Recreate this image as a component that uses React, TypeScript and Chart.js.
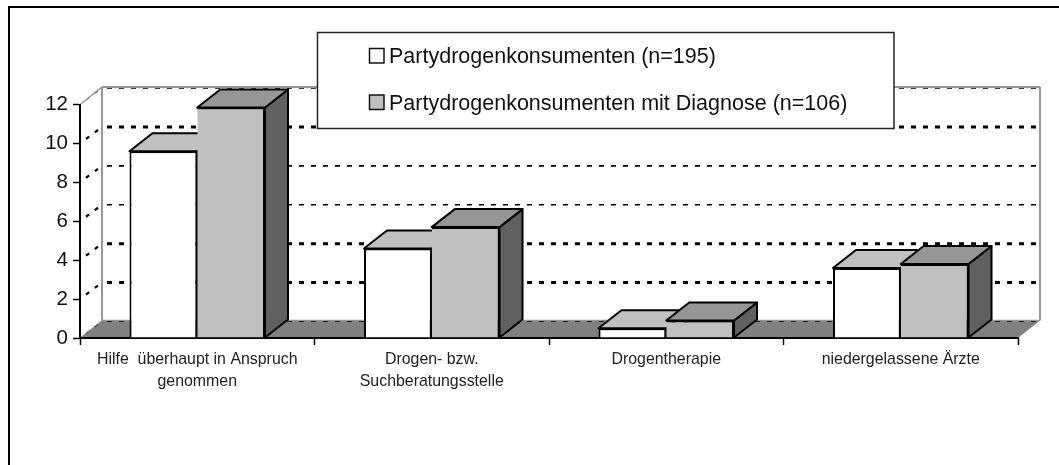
import React, { useEffect, useRef } from "react";
import { Chart, registerables } from "chart.js";

Chart.register(...registerables);

const categories: (string | string[])[] = [
  ["Hilfe  überhaupt in Anspruch", "genommen"],
  ["Drogen- bzw.", "Suchberatungsstelle"],
  "Drogentherapie",
  "niedergelassene Ärzte",
];
const seriesNames = [
  "Partydrogenkonsumenten (n=195)",
  "Partydrogenkonsumenten mit Diagnose (n=106)",
];
const allConsumers = [9.6, 4.6, 0.5, 3.6];
const withDiagnosis = [11.85, 5.7, 0.9, 3.8];
const yTicks = [0, 2, 4, 6, 8, 10, 12];
const gridWidths: Record<number, number> = { 0: 1, 2: 3, 4: 3, 6: 1.6, 8: 1.6, 10: 3, 12: 1.6 };

const WALL_DX = 22;
const WALL_DY = 17.5;
const BAR_DX = 23;
const BAR_DY = 18;
const FONT = '"Liberation Sans", Arial, sans-serif';

const sideColors = [
  { top: "#C0C0C0", side: "#FFFFFF" },
  { top: "#969696", side: "#606060" },
];

function poly(ctx: CanvasRenderingContext2D, pts: number[][], fill: string | null, stroke: string | null, lw = 1) {
  ctx.beginPath();
  pts.forEach((p, i) => (i ? ctx.lineTo(p[0], p[1]) : ctx.moveTo(p[0], p[1])));
  ctx.closePath();
  if (fill) {
    ctx.fillStyle = fill;
    ctx.fill();
  }
  if (stroke) {
    ctx.strokeStyle = stroke;
    ctx.lineWidth = lw;
    ctx.lineJoin = "round";
    ctx.stroke();
  }
}

function seg(ctx: CanvasRenderingContext2D, x1: number, y1: number, x2: number, y2: number, color: string, lw: number, dash: number[] = []) {
  ctx.save();
  ctx.beginPath();
  ctx.lineCap = "butt";
  ctx.setLineDash(dash);
  ctx.strokeStyle = color;
  ctx.lineWidth = lw;
  ctx.moveTo(x1, y1);
  ctx.lineTo(x2, y2);
  ctx.stroke();
  ctx.restore();
}

const scenePlugin = {
  id: "scene3d",
  beforeDraw(chart: any) {
    const { ctx, chartArea: a, scales } = chart;
    const y = scales.y;
    const y0 = y.getPixelForValue(0);
    const y12 = y.getPixelForValue(12);
    ctx.save();
    ctx.fillStyle = "#FFFFFF";
    ctx.fillRect(0, 0, chart.width, chart.height);

    // outer frame
    seg(ctx, 9, 465, 9, 7, "#000", 2);
    seg(ctx, 8, 7, 1059, 7, "#000", 2);

    // floor
    poly(ctx, [[a.left, y0], [a.left + WALL_DX, y0 - WALL_DY], [a.right + WALL_DX, y0 - WALL_DY], [a.right, y0]], "#808080", null);

    // walls
    const gx = a.left + WALL_DX;
    const gr = a.right + WALL_DX;
    for (const t of yTicks) {
      const py = y.getPixelForValue(t);
      const lw = gridWidths[t];
      seg(ctx, gx + 5, py - WALL_DY + 1, gr - 2, py - WALL_DY + 1, "#000", lw, [5, 7]);
      seg(ctx, a.left + 6, py - 4.5, gx, py - WALL_DY + 1, "#000", t === 0 || t === 12 ? 1 : 2.2, [4, 7]);
    }
    seg(ctx, gx, y12 - WALL_DY, gx, y0 - WALL_DY, "#969696", 2);
    seg(ctx, gr, y12 - WALL_DY, gr, y0 - WALL_DY, "#969696", 2);
    seg(ctx, gx, y12 - WALL_DY, gr, y12 - WALL_DY, "#969696", 2);
    seg(ctx, gx, y0 - WALL_DY, gr, y0 - WALL_DY, "#969696", 1.5);
    seg(ctx, a.left, y12, gx, y12 - WALL_DY, "#969696", 1.5);
    seg(ctx, a.left, y0, gx, y0 - WALL_DY, "#969696", 1);
    ctx.restore();
  },
  beforeDatasetsDraw(chart: any) {
    const { ctx } = chart;
    ctx.save();
    chart.data.datasets.forEach((_: any, di: number) => {
      const meta = chart.getDatasetMeta(di);
      meta.data.forEach((bar: any) => {
        const l = bar.x - bar.width / 2;
        const r = bar.x + bar.width / 2;
        const t = bar.y;
        const b = bar.base;
        poly(ctx, [[r, t], [r + BAR_DX, t - BAR_DY], [r + BAR_DX, b - BAR_DY], [r, b]], sideColors[di].side, "#000", 2);
        poly(ctx, [[l, t], [l + BAR_DX, t - BAR_DY], [r + BAR_DX, t - BAR_DY], [r, t]], sideColors[di].top, "#000", 2);
      });
    });
    ctx.restore();
  },
  afterDraw(chart: any) {
    const { ctx } = chart;
    ctx.save();
    ctx.fillStyle = "#FFFFFF";
    ctx.strokeStyle = "#222";
    ctx.lineWidth = 1.5;
    ctx.fillRect(317.5, 32.5, 576.5, 96);
    ctx.strokeRect(317.5, 32.5, 576.5, 96);
    chart.data.datasets.forEach((ds: any, i: number) => {
      const top = i === 0 ? 48.5 : 95;
      ctx.fillStyle = ds.backgroundColor;
      ctx.strokeStyle = "#111";
      ctx.lineWidth = 1.5;
      ctx.fillRect(369.5, top, 14.5, 14.5);
      ctx.strokeRect(369.5, top, 14.5, 14.5);
      ctx.fillStyle = "#111";
      ctx.font = `21.5px ${FONT}`;
      ctx.textBaseline = "middle";
      ctx.textAlign = "left";
      ctx.fillText(ds.label, 389, top + 9);
    });
    ctx.restore();
  },
};

export default function App() {
  const ref = useRef<HTMLCanvasElement>(null);
  useEffect(() => {
    const chart = new Chart(ref.current!, {
      type: "bar",
      data: {
        labels: categories as any,
        datasets: [
          {
            label: seriesNames[0],
            data: allConsumers,
            backgroundColor: "#FFFFFF",
            borderColor: "#000",
            borderWidth: { top: 2, left: 2, right: 2, bottom: 0 },
            borderSkipped: false,
          },
          {
            label: seriesNames[1],
            data: withDiagnosis,
            backgroundColor: "#C0C0C0",
            borderColor: "#000",
            borderWidth: { top: 2, left: 0, right: 2, bottom: 0 },
            borderSkipped: false,
          },
        ],
      },
      plugins: [scenePlugin],
      options: {
        responsive: false,
        animation: false,
        categoryPercentage: 0.578,
        barPercentage: 1,
        layout: { padding: { top: 104.5, right: 41, left: 0, bottom: 0 } },
        plugins: { legend: { display: false }, tooltip: { enabled: false }, title: { display: false } },
        scales: {
          x: {
            offset: true,
            afterFit: (s: any) => { s.height = 127; },
            grid: { display: true, drawOnChartArea: false, drawTicks: true, tickLength: 7, tickColor: "#000", tickWidth: 1.5, offset: true },
            border: { display: true, color: "#000", width: 2 },
            ticks: { autoSkip: false, maxRotation: 0, minRotation: 0, padding: 4, color: "#222", font: { family: FONT, size: 15.9, lineHeight: 1.38 } },
          },
          y: {
            min: 0,
            max: 12,
            afterFit: (s: any) => { s.width = 80; },
            afterBuildTicks: (s: any) => { s.ticks = yTicks.map((value) => ({ value })); },
            grid: { display: true, drawOnChartArea: false, drawTicks: true, tickLength: 7, tickColor: "#000", tickWidth: 1.5 },
            border: { display: true, color: "#000", width: 2 },
            ticks: { padding: 5, color: "#111", font: { family: FONT, size: 20.5 } },
          },
        },
      },
    } as any);
    return () => chart.destroy();
  }, []);
  return (
    <canvas
      ref={ref}
      width={1059}
      height={465}
      style={{ position: "absolute", left: 0, top: 0, width: 1059, height: 465, display: "block" }}
    />
  );
}
